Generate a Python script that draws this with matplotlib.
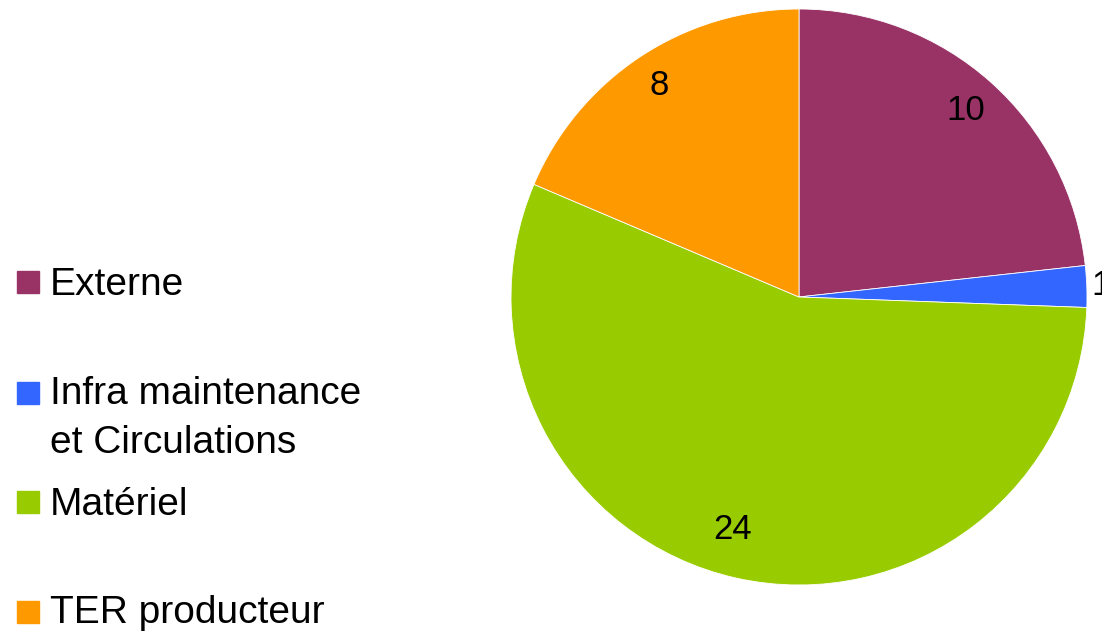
import numpy as np
import matplotlib.pyplot as plt
from matplotlib.patches import Rectangle

plt.rcParams['font.family'] = ['Liberation Sans', 'DejaVu Sans']

# données
categories = ["Externe", "Infra maintenance\net Circulations", "Matériel", "TER producteur"]
values = [10, 1, 24, 8]
colors = ["#993366", "#3366FF", "#99CC00", "#FF9900"]

fig = plt.figure(figsize=(11.02, 6.34), dpi=100)

# camembert : centre ~(799, 297) px, rayon ~288 px
ax = fig.add_axes([0.4637, 0.0773, 0.5227, 0.9085])
wedges, texts = ax.pie(
    values,
    colors=colors,
    startangle=90,
    counterclock=False,
    labels=[str(v) for v in values],
    labeldistance=0.87,
    wedgeprops=dict(edgecolor="white", linewidth=0.6),
    textprops=dict(fontsize=25, color="black", ha="center", va="center"),
)
# position des étiquettes (le "1" est à l'extérieur du disque)
label_dist = [0.87, 1.05, 0.84, 0.88]
label_shift = [0, 0, -3.5, 0]   # degrés
for t, d, s in zip(texts, label_dist, label_shift):
    x, y = t.get_position()
    a = np.arctan2(y, x) + np.radians(s)
    t.set_position((d * np.cos(a), d * np.sin(a)))
    t.set_clip_on(False)
ax.set_xlim(-1, 1)
ax.set_ylim(-1, 1)
ax.set_aspect("equal")

# légende manuelle (espacement irrégulier comme dans l'original)
marker_y = [282, 393, 502, 612]
baseline_y = [295, 453, 515, 623]   # ligne de base de la dernière ligne
for lab, col, my, by in zip(categories, colors, marker_y, baseline_y):
    fig.patches.append(Rectangle((17 / 1102, 1 - (my + 11) / 634), 22 / 1102, 22 / 634,
                                 transform=fig.transFigure, color=col))
    fig.text(50 / 1102, 1 - by / 634, lab, fontsize=28, va="baseline", ha="left",
             linespacing=1.45, transform=fig.transFigure)

fig.savefig("out.png", dpi=100)
